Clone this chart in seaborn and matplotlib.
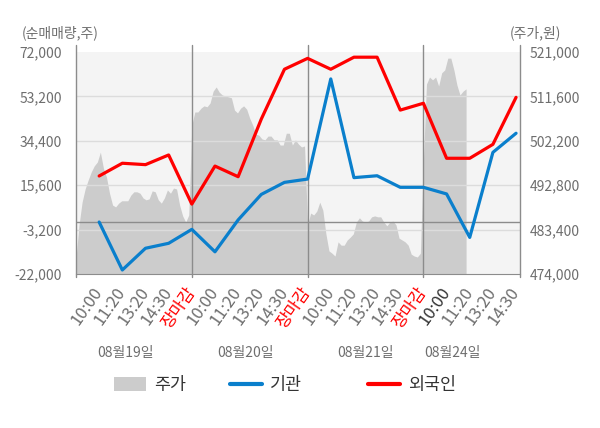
import numpy as np
import pandas as pd
import matplotlib.pyplot as plt
import seaborn as sns
from matplotlib.patches import Patch
from matplotlib.lines import Line2D
from matplotlib.transforms import blended_transform_factory

sns.set_style('white')
plt.rcParams['font.family'] = ['Noto Sans CJK KR', 'DejaVu Sans']

# x categories (19 points over 4 days)
time_labels = ['10:00', '11:20', '13:20', '14:30', '장마감',
               '10:00', '11:20', '13:20', '14:30', '장마감',
               '10:00', '11:20', '13:20', '14:30', '장마감',
               '10:00', '11:20', '13:20', '14:30']
dates = ['08월19일', '08월20일', '08월21일', '08월24일']
date_pos = [1.12, 6.3, 11.48, 15.24]
day_starts = [-1, 4, 9, 14]

# net buying (shares)
inst = [0, -20300, -11100, -9000, -3100, -12600, 900, 11700, 16800, 18200,
        60600, 18800, 19600, 14700, 14700, 11900, -6500, 29500, 37600]
foreign = [19500, 24900, 24300, 28400, 7600, 23700, 19200, 43600, 64700, 69300,
           64700, 69800, 69800, 47400, 50300, 27000, 27000, 32900, 52800]

# intraday price (won), one list per day
price_d1 = [477400, 484400, 489200, 492000, 493900, 495600, 496900, 497700, 499800, 496400,
            494500, 491100, 488600, 488200, 489000, 489500, 489500, 489500, 490700, 491400,
            491400, 491100, 490100, 489700, 489900, 491600, 491400, 489700, 489000, 490100,
            491800, 491100, 492200, 492000, 488600, 486300, 485000, 486500]
price_d2 = [505500, 508300, 508300, 509100, 509600, 509400, 510200, 512700, 513600, 512500,
            511900, 511700, 511500, 511300, 508700, 508100, 509100, 509600, 508900, 507000,
            505500, 503600, 503400, 502600, 502400, 503200, 503200, 502400, 502400, 501300,
            501300, 503800, 503800, 501300, 502400, 501500, 500900, 501100]
price_d3 = [484400, 486900, 486500, 487300, 489200, 487500, 482500, 478900, 478400, 477800,
            480800, 480100, 480100, 481200, 481800, 482500, 485000, 485900, 485200, 485000,
            485200, 486100, 486300, 486100, 486100, 485000, 484200, 485000, 485200, 484400,
            481600, 481200, 480800, 480100, 478200, 477800, 477600, 478400]
price_d4 = [498100, 514200, 515700, 515100, 515700, 513800, 516600, 517200, 519700, 519700,
            517200, 514000, 511900, 512700, 513200]

left_ticks = [-22000, -3200, 15600, 34400, 53200, 72000]
right_ticks = [474000, 483400, 492800, 502200, 511600, 521000]

blue = '#0a7fcc'
red = '#ff0000'
area_c = '#cccccc'
txt_c = '#6e6e6e'
line_c = '#8c8c8c'

# build price frame
step = 5 / 38
px, pv = [], []
for start, day in zip(day_starts, [price_d1, price_d2, price_d3, price_d4]):
    px.extend(start + np.arange(len(day)) * step)
    pv.extend(day)
price_df = pd.DataFrame({'x': px, 'price': pv})

flow_df = pd.DataFrame({'x': np.arange(len(time_labels)), '기관': inst, '외국인': foreign})

fig = plt.figure(figsize=(6, 4.28), dpi=100)
ax_p = fig.add_axes([76 / 600, 1 - 274 / 428, 444 / 600, 222 / 428])
ax_p.set_facecolor('#f4f4f4')
ax_l = ax_p.twinx()
ax_p.yaxis.tick_right()
ax_l.yaxis.tick_left()

# price area
ax_p.fill_between(price_df['x'], price_df['price'], right_ticks[0], color=area_c, lw=0)
ax_p.set_ylim(right_ticks[0], right_ticks[-1])
ax_p.set_yticks(right_ticks)
ax_p.set_yticklabels([f'{v:,}' for v in right_ticks])

xmax = 18.17
ax_p.set_xlim(-1, xmax)

# grid + reference lines on top of the area
for v in left_ticks[1:-1]:
    ax_l.axhline(v, color='#dcdcdc', lw=1, zorder=1)
ax_l.axhline(0, color=line_c, lw=1, zorder=1.5)
for v in day_starts + [xmax]:
    ax_l.axvline(v, ymin=-0.015, ymax=1.032, color=line_c, lw=1, clip_on=False, zorder=1.5)

sns.lineplot(data=flow_df, x='x', y='기관', ax=ax_l, color=blue, lw=2.3, legend=False, zorder=3)
sns.lineplot(data=flow_df, x='x', y='외국인', ax=ax_l, color=red, lw=2.3, legend=False, zorder=3)
ax_l.set_ylim(left_ticks[0], left_ticks[-1])
ax_l.set_yticks(left_ticks)
ax_l.set_yticklabels([f'{v:,}' for v in left_ticks])
ax_l.set_xlabel('')
ax_l.set_ylabel('')

for a in (ax_p, ax_l):
    for s in a.spines.values():
        s.set_visible(False)
ax_p.spines['bottom'].set_visible(True)
ax_p.spines['bottom'].set_color(line_c)

ax_p.set_xticks(np.arange(len(time_labels)))
ax_p.set_xticklabels(time_labels)
ax_p.tick_params(axis='x', length=0, pad=11, labelsize=12)
ax_p.tick_params(axis='y', length=0, pad=7, labelsize=10, labelcolor=txt_c)
ax_l.tick_params(axis='y', length=0, pad=10, labelsize=10, labelcolor=txt_c)
for i, t in enumerate(ax_p.get_xticklabels()):
    t.set_rotation(55)
    t.set_rotation_mode('anchor')
    t.set_ha('right')
    t.set_va('center')
    if time_labels[i] == '장마감':
        t.set_color(red)
    elif i == 15:
        t.set_color('#333333')
    else:
        t.set_color(txt_c)

trans = blended_transform_factory(ax_p.transData, fig.transFigure)
for d, xp in zip(dates, date_pos):
    ax_p.text(xp, 1 - 353 / 428, d, transform=trans, ha='center', va='center',
              fontsize=10, color=txt_c)

fig.text(22 / 600, 1 - 33 / 428, '(순매매량,주)', ha='left', va='center', fontsize=10, color=txt_c)
fig.text(510 / 600, 1 - 33 / 428, '(주가,원)', ha='left', va='center', fontsize=10, color=txt_c)

# legend, one entry each
entries = [(Patch(facecolor=area_c, edgecolor='none'), '주가', 114),
           (Line2D([], [], color=blue, lw=3), '기관', 230),
           (Line2D([], [], color=red, lw=3), '외국인', 368)]
for h, lab, xpix in entries:
    fig.legend(handles=[h], labels=[lab], loc='center left',
               bbox_to_anchor=(xpix / 600, 1 - 385 / 428), frameon=False,
               fontsize=12.5, handlelength=1.85, handleheight=0.85,
               handletextpad=0.45, borderpad=0, borderaxespad=0, labelcolor='#333333')

fig.savefig('out.png', dpi=100)
